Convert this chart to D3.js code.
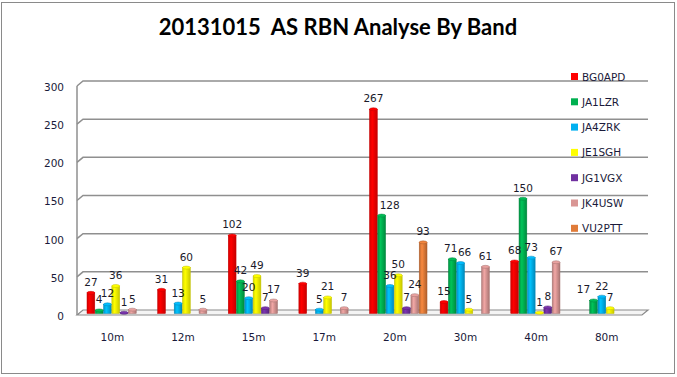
<!DOCTYPE html>
<html>
<head>
<meta charset="utf-8">
<script src="https://cdn.jsdelivr.net/npm/d3@7"></script>
<style>
  body { margin: 0; background: #fff; }
  text { font-family: "DejaVu Sans", sans-serif; }
</style>
</head>
<body>
<div id="chart"></div>
<script>
// dados
const bands = ['10m', '12m', '15m', '17m', '20m', '30m', '40m', '80m'];
const stations = ['BG0APD', 'JA1LZR', 'JA4ZRK', 'JE1SGH', 'JG1VGX', 'JK4USW', 'VU2PTT'];
const colors = ['#ff0000', '#00b050', '#00b0f0', '#ffff00', '#7030a0', '#d99694', '#e07b39'];
const yTicks = [0, 50, 100, 150, 200, 250, 300];

// valores por estação, na ordem das bandas (null = sem barra)
const BG0APD = [27, 31, 102, 39, 267, 15, 68, null];
const JA1LZR = [4, null, 42, null, 128, 71, 150, 17];
const JA4ZRK = [12, 13, 20, 5, 36, 66, 73, 22];
const JE1SGH = [36, 60, 49, 21, 50, 5, 1, 7];
const JG1VGX = [1, null, 7, null, 7, null, 8, null];
const JK4USW = [5, 5, 17, 7, 24, 61, 67, null];
const VU2PTT = [null, null, null, null, 93, null, null, null];
const series = [BG0APD, JA1LZR, JA4ZRK, JE1SGH, JG1VGX, JK4USW, VU2PTT];

// rótulos que o Excel deslocou para evitar sobreposição
const labelShift = { '20m|JA1LZR': 8, '80m|JA1LZR': -10, '30m|JA4ZRK': 4, '30m|JA1LZR': -1.5 };

const W = 677, H = 377;
const svg = d3.select('#chart').append('svg')
  .attr('width', W).attr('height', H);

// moldura
svg.append('rect')
  .attr('x', 1.5).attr('y', 2.5)
  .attr('width', 673).attr('height', 371)
  .attr('fill', '#fff').attr('stroke', '#8a8a8a');

// título
svg.append('text')
  .attr('x', 338).attr('y', 35)
  .attr('text-anchor', 'middle')
  .style('font-family', 'Lato, sans-serif')
  .style('font-weight', 'bold')
  .style('font-size', '22px')
  .style('white-space', 'pre')
  .attr('fill', '#000')
  .text('20131015  AS RBN Analyse By Band');

// área do gráfico (efeito 3D)
const left = 77, right = 642, dx = 6, dy = 5;
const yFront = d3.scaleLinear().domain([0, 300]).range([315, 86]);
const yBack = v => yFront(v) - dy;
const yBar = d3.scaleLinear().domain([0, 300]).range([313.5, 84]);

const x = d3.scaleBand().domain(bands).range([left, right]);
const xIn = d3.scaleBand().domain(stations).range([10, 10 + 58]);

// chão
svg.append('path')
  .attr('d', `M${left},${yFront(0)} L${left + dx},${yBack(0)} L${right + dx},${yBack(0)} L${right},${yFront(0)} Z`)
  .attr('fill', '#f4f4f4').attr('stroke', '#8a8a8a').attr('stroke-width', 1.2);

// linhas de grade
const grid = svg.append('g');
yTicks.slice(1).forEach(v => {
  grid.append('path')
    .attr('d', `M${left},${yFront(v)} L${left + dx},${yBack(v)} L${right + dx},${yBack(v)}`)
    .attr('fill', 'none').attr('stroke', '#8f8f8f').attr('stroke-width', 1.5);
});
grid.append('line')
  .attr('x1', left).attr('x2', left)
  .attr('y1', yFront(300)).attr('y2', yFront(0))
  .attr('stroke', '#8f8f8f').attr('stroke-width', 1.5);

// eixo Y
const yAxis = svg.append('g')
  .attr('transform', `translate(${left},0)`)
  .call(d3.axisLeft(yFront).tickValues(yTicks).tickSize(0).tickPadding(13));
yAxis.select('.domain').remove();
yAxis.selectAll('text')
  .style('font-family', '"DejaVu Sans", sans-serif')
  .style('font-size', '10.5px')
  .attr('fill', '#1a1a3a')
  .attr('dy', '0.42em');

// eixo X
const xAxis = svg.append('g')
  .attr('transform', 'translate(0,331)')
  .call(d3.axisBottom(x).tickSize(0).tickPadding(3));
xAxis.select('.domain').remove();
xAxis.selectAll('text')
  .style('font-family', '"DejaVu Sans", sans-serif')
  .style('font-size', '10.5px')
  .attr('fill', '#1a1a3a');

// gradientes para as barras cilíndricas
const defs = svg.append('defs');
colors.forEach((c, i) => {
  const g = defs.append('linearGradient').attr('id', 'grad' + i)
    .attr('x1', '0%').attr('x2', '100%');
  g.append('stop').attr('offset', '0%').attr('stop-color', d3.color(c).darker(0.5));
  g.append('stop').attr('offset', '35%').attr('stop-color', d3.color(c).brighter(0.3));
  g.append('stop').attr('offset', '100%').attr('stop-color', d3.color(c).darker(0.7));
});

// barras
const bw = 7.8;
const barData = [];
series.forEach((vals, si) => {
  vals.forEach((v, bi) => {
    if (v !== null) barData.push({ band: bands[bi], station: stations[si], si: si, value: v });
  });
});

const bars = svg.append('g');
bars.selectAll('.bar')
  .data(barData)
  .enter()
  .append('rect')
  .attr('class', 'bar')
  .attr('x', d => x(d.band) + xIn(d.station))
  .attr('y', d => yBar(d.value))
  .attr('width', bw)
  .attr('height', d => yBar(0) - yBar(d.value))
  .attr('fill', d => `url(#grad${d.si})`)
  .attr('stroke', d => d3.color(colors[d.si]).darker(0.8))
  .attr('stroke-width', 0.5);

bars.selectAll('.top')
  .data(barData)
  .enter()
  .append('ellipse')
  .attr('class', 'top')
  .attr('cx', d => x(d.band) + xIn(d.station) + bw / 2)
  .attr('cy', d => yBar(d.value))
  .attr('rx', bw / 2)
  .attr('ry', 1.5)
  .attr('fill', d => d3.color(colors[d.si]).brighter(0.2))
  .attr('stroke', d => d3.color(colors[d.si]).darker(0.8))
  .attr('stroke-width', 0.5);

// rótulos de valores
svg.selectAll('.label')
  .data(barData)
  .enter()
  .append('text')
  .attr('class', 'label')
  .attr('x', d => x(d.band) + xIn(d.station) + bw / 2 + (labelShift[d.band + '|' + d.station] || 0))
  .attr('y', d => yBar(d.value) - 7)
  .attr('text-anchor', 'middle')
  .style('font-size', '10.5px')
  .attr('fill', '#1a1a2a')
  .text(d => d.value);

// legenda
const legend = svg.append('g').attr('transform', 'translate(571,73)');
stations.forEach((s, i) => {
  const row = legend.append('g').attr('transform', `translate(0,${i * 25.3})`);
  row.append('rect')
    .attr('width', 7).attr('height', 7)
    .attr('fill', colors[i]);
  row.append('text')
    .attr('x', 11).attr('y', 7.5)
    .style('font-size', '10.5px')
    .attr('fill', '#1a1a3a')
    .text(s);
});
</script>
</body>
</html>
